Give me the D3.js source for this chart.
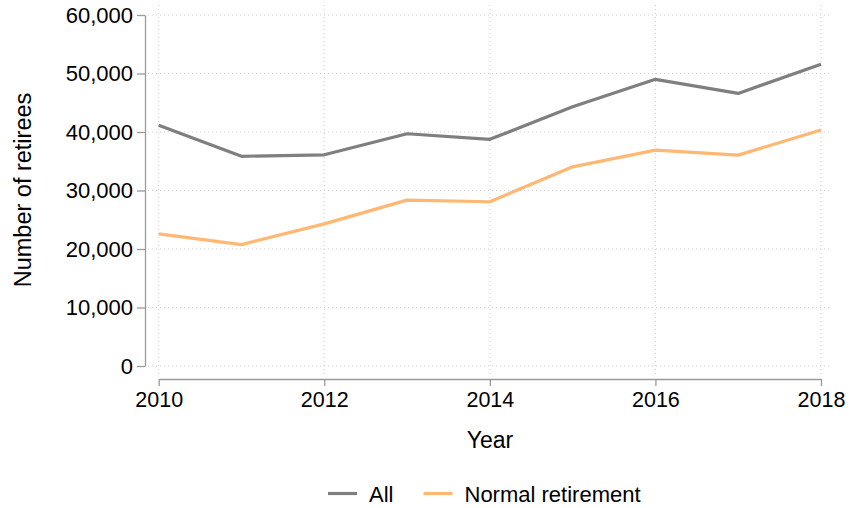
<!DOCTYPE html>
<html>
<head>
<meta charset="utf-8">
<script src="https://cdn.jsdelivr.net/npm/d3@7"></script>
<style>
	body { margin: 0; background: #fff; }
	svg text { font-family: "Liberation Sans", Arial, Helvetica, sans-serif; fill: #000; }
</style>
</head>
<body>
<div id="chart"></div>
<script>

var years = [2010, 2011, 2012, 2013, 2014, 2015, 2016, 2017, 2018];
var allRetirees = [41150, 35850, 36100, 39700, 38750, 44300, 49000, 46600, 51600];
var normalRetirement = [22600, 20750, 24300, 28350, 28080, 34050, 36900, 36050, 40350];
var seriesNames = ["All", "Normal retirement"];
var seriesColors = ["#7f7f7f", "#ffb874"];
var xTicks = [2010, 2012, 2014, 2016, 2018];
var yTicks = [0, 10000, 20000, 30000, 40000, 50000, 60000];

var width = 851, height = 508;

var svg = d3.select("#chart")
	.append("svg")
	.attr("width", width)
	.attr("height", height);

var x = d3.scaleLinear().domain([2010, 2018]).range([158.7, 821]);
var y = d3.scaleLinear().domain([0, 60000]).range([366, 15]);

// dotted grid
svg.append("g")
	.selectAll("line")
	.data(yTicks)
	.enter().append("line")
		.attr("x1", 148).attr("x2", 832)
		.attr("y1", function(d) { return y(d); })
		.attr("y2", function(d) { return y(d); })
		.attr("stroke", "#cfcfcf")
		.attr("stroke-width", 1)
		.attr("stroke-dasharray", "1,3");

svg.append("g")
	.selectAll("line")
	.data(xTicks)
	.enter().append("line")
		.attr("x1", function(d) { return x(d); })
		.attr("x2", function(d) { return x(d); })
		.attr("y1", 5).attr("y2", 376)
		.attr("stroke", "#cfcfcf")
		.attr("stroke-width", 1)
		.attr("stroke-dasharray", "1,3");

// axes
var yAxis = svg.append("g")
	.attr("transform", "translate(145,0)")
	.call(d3.axisLeft(y).tickValues(yTicks).tickFormat(d3.format(",")).tickSize(8).tickSizeOuter(0).tickPadding(4));

var xAxis = svg.append("g")
	.attr("transform", "translate(0,379)")
	.call(d3.axisBottom(x).tickValues(xTicks).tickFormat(d3.format("d")).tickSize(7).tickSizeOuter(0).tickPadding(6));

[yAxis, xAxis].forEach(function(ax) {
	ax.select(".domain").attr("stroke", "#9a9a9a").attr("stroke-width", 1.3);
	ax.selectAll(".tick line").attr("stroke", "#9a9a9a").attr("stroke-width", 1.3);
	ax.selectAll(".tick text").attr("fill", "#000")
		.style("font-family", "'Liberation Sans', Arial, Helvetica, sans-serif");
});
yAxis.selectAll(".tick text").attr("font-size", 22);
xAxis.selectAll(".tick text").attr("font-size", 21.5);

// lines
var line = d3.line()
	.x(function(d, i) { return x(years[i]); })
	.y(function(d) { return y(d); });

[allRetirees, normalRetirement].forEach(function(values, i) {
	svg.append("path")
		.datum(values)
		.attr("fill", "none")
		.attr("stroke", seriesColors[i])
		.attr("stroke-width", 3.2)
		.attr("stroke-linejoin", "round")
		.attr("d", line);
});

// axis titles
svg.append("text")
	.attr("x", 490).attr("y", 448)
	.attr("text-anchor", "middle")
	.attr("font-size", 23)
	.text("Year");

svg.append("text")
	.attr("transform", "translate(31,190) rotate(-90)")
	.attr("text-anchor", "middle")
	.attr("font-size", 23.5)
	.text("Number of retirees");

// legend
var legendX = [328, 423.5];
var legend = svg.append("g")
	.selectAll("g")
	.data(seriesNames)
	.enter().append("g")
		.attr("transform", function(d, i) { return "translate(" + legendX[i] + ",493.5)"; });

legend.append("line")
	.attr("x1", 0).attr("x2", 29)
	.attr("stroke", function(d, i) { return seriesColors[i]; })
	.attr("stroke-width", 3.2);

legend.append("text")
	.attr("x", 41).attr("y", 8)
	.attr("font-size", 22)
	.text(function(d) { return d; });

</script>
</body>
</html>
